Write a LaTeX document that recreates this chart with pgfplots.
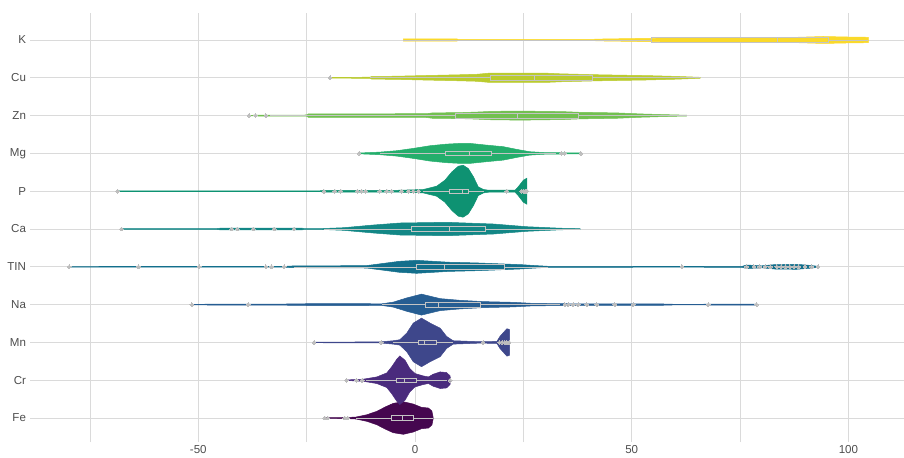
\documentclass[border=0pt]{standalone}
\usepackage{pgfplots}
\pgfplotsset{compat=1.18}
\usepackage{pgfplotstable}
\usepgfplotslibrary{fillbetween,statistics}
\usepackage{fontspec}
\setmainfont{Liberation Sans}

\definecolor{tickgrey}{HTML}{4D4D4D}
\definecolor{gridgrey}{HTML}{DADADA}
\definecolor{boxgrey}{HTML}{C4C4C4}
\definecolor{dotgrey}{HTML}{BDBDBD}
\definecolor{cFe}{HTML}{45074F}
\definecolor{cCr}{HTML}{4A2B7D}
\definecolor{cMn}{HTML}{3E478B}
\definecolor{cNa}{HTML}{265D92}
\definecolor{cTIN}{HTML}{136F8C}
\definecolor{cCa}{HTML}{138786}
\definecolor{cP}{HTML}{0E9272}
\definecolor{cMg}{HTML}{24AE6C}
\definecolor{cZn}{HTML}{72C050}
\definecolor{cCu}{HTML}{BACB2E}
\definecolor{cK}{HTML}{FAD92A}

% violin outlines: x = value, w = half width (in pt at row spacing 37.83)
\pgfplotstableread{
x w
-20.8 0.3
-15.5 0.6
-13.6 1.0
-11.1 3.3
-8.8 6.7
-6.9 11.0
-5.0 14.7
-2.7 16.3
-0.4 14.0
1.5 10.7
3.1 10.0
3.9 7.0
4.2 0.5
}\tFe
\pgfplotstableread{
x w
-15.8 0.3
-12.0 1.0
-8.8 3.3
-6.5 7.3
-5.4 13.3
-4.2 21.0
-3.5 24.3
-2.3 20.0
-1.2 11.7
0.0 6.7
1.9 4.3
3.1 3.3
4.2 6.0
5.8 8.3
7.3 7.7
8.1 4.3
8.2 0.5
}\tCr
\pgfplotstableread{
x w
-23.3 0.3
-8.0 0.5
-7.3 0.8
-5.0 1.7
-3.5 2.7
-1.9 9.3
-0.4 19.3
1.5 24.3
3.5 19.3
5.8 14.3
7.3 6.0
8.8 1.7
15.0 0.7
18.9 1.0
19.6 6.0
21.2 13.7
21.8 13.0
21.85 0.5
}\tMn
\pgfplotstableread{
x w
-51.5 0.3
-38.5 0.6
-30.0 0.6
-23.0 1.0
-15.0 1.0
-7.7 0.8
-5.0 2.5
-1.9 6.7
1.5 10.5
5.8 6.0
10.4 4.3
15.8 3.0
22.7 2.3
26.9 1.3
36.5 0.8
56.0 0.8
60.0 0.3
63.0 0.3
78.8 0.6
}\tNa
\pgfplotstableread{
x w
-79.8 0.3
-30.2 0.4
-28.0 0.9
-20.0 1.0
-11.2 1.2
-7.5 3.3
-3.6 5.5
0.4 6.5
7.7 4.6
14.2 3.9
20.7 2.8
24.7 2.1
27.1 1.4
30.8 0.5
61.6 0.4
75.5 0.5
76.5 1.8
80.0 1.0
83.0 2.2
88.0 2.5
91.0 1.5
93.0 0.5
}\tTIN
\pgfplotstableread{
x w
-67.7 0.3
-46.0 0.3
-45.0 0.8
-26.0 0.8
-25.5 0.3
-21.2 0.5
-16.5 1.3
-9.6 4.0
-3.5 6.0
7.3 6.7
18.1 5.0
25.8 2.3
33.5 0.8
38.1 0.4
}\tCa
\pgfplotstableread{
x w
-68.6 0.3
-22.0 0.4
-21.0 0.8
-5.0 0.8
1.9 1.7
5.0 5.0
6.9 11.0
8.5 19.3
10.0 25.0
11.1 26.0
12.3 22.7
13.5 14.3
14.6 4.3
15.8 1.7
17.0 1.0
23.1 1.0
23.8 4.3
25.0 11.0
25.8 13.0
25.82 0.5
}\tP
\pgfplotstableread{
x w
-12.9 0.4
-8.1 1.3
-4.2 2.7
-0.4 5.0
3.5 7.7
7.3 9.3
10.4 10.0
12.7 10.0
16.5 8.3
20.4 6.7
23.5 4.0
26.5 1.7
30.0 0.8
33.0 0.7
38.3 0.4
}\tMg
\pgfplotstableread{
x w
-38.3 0.3
-34.4 0.5
-25.0 0.6
-24.6 1.7
2.7 1.9
4.0 2.7
10.4 3.0
14.0 3.5
18.1 4.3
25.0 4.5
34.0 4.0
38.0 3.3
46.5 2.7
51.9 1.7
57.3 1.0
62.7 0.4
}\tZn
\pgfplotstableread{
x w
-19.6 0.3
-10.4 0.6
-10.0 1.3
-4.2 1.6
2.7 2.3
10.0 3.0
14.2 3.5
17.3 4.7
30.0 4.7
33.5 4.0
42.7 3.0
53.5 2.2
60.4 1.4
65.8 0.5
}\tCu
\pgfplotstableread{
x w
-2.7 1.2
9.6 1.2
10.0 0.5
39.6 0.5
43.4 1.0
54.2 1.7
65.0 2.0
79.6 2.2
88.1 2.7
94.2 3.5
99.6 3.0
104.6 2.7
104.62 0.3
}\tK

% outlying points: value, row
\pgfplotstableread{
x y
-20.8 1
-20.1 1
-16.2 1
-15.5 1
-15.8 2
-13.5 2
-12.2 2
8.1 2
-23.3 3
-7.8 3
15.7 3
19.5 3
20.1 3
20.7 3
21.2 3
21.7 3
-51.5 4
-38.5 4
34.6 4
35.4 4
36.5 4
37.7 4
39.6 4
41.9 4
46.1 4
50.4 4
67.7 4
78.8 4
-79.8 5
-63.8 5
-49.8 5
-34.4 5
-33.1 5
-30.2 5
61.6 5
76.5 5
78.2 5
79.5 5
80.8 5
82.0 5
83.5 5
84.5 5
85.5 5
86.5 5
87.5 5
88.5 5
90.0 5
91.5 5
93.0 5
-67.7 6
-42.3 6
-41.0 6
-37.3 6
-32.5 6
-27.9 6
-68.6 7
-21.0 7
-18.5 7
-17.1 7
-13.3 7
-12.3 7
-11.4 7
-8.1 7
-6.5 7
-5.4 7
-3.1 7
-1.5 7
-0.4 7
0.8 7
21.2 7
24.6 7
25.0 7
25.4 7
25.8 7
-12.9 8
33.8 8
34.5 8
38.3 8
-38.3 9
-36.8 9
-34.4 9
-19.6 10
}\tOut

\newcommand\pxrow{37.83}
% #1 table, #2 row, #3 colour
\newcommand{\violin}[3]{%
  \addplot[draw=none, forget plot, name path=up#2] table[x=x, y expr={#2+\thisrow{w}/\pxrow}] {#1};
  \addplot[draw=none, forget plot, name path=lo#2] table[x=x, y expr={#2-\thisrow{w}/\pxrow}] {#1};
  \addplot[fill=#3, draw=#3, line width=0.5bp, forget plot] fill between[of=up#2 and lo#2];
}
% #1 row, #2 lower whisker, #3 q1, #4 median, #5 q3, #6 upper whisker
\newcommand{\statbox}[6]{%
  \addplot[draw=boxgrey, line width=0.6bp, forget plot,
    boxplot prepared={draw position=#1, lower whisker=#2, lower quartile=#3,
      median=#4, upper quartile=#5, upper whisker=#6}] coordinates {};
}

\begin{document}
\begin{tikzpicture}
\begin{axis}[
  at={(0,0)}, anchor=south west,
  scale only axis,
  width=874bp, height=429bp,
  xmin=-88.83, xmax=112.83,
  ymin=0.366, ymax=11.714,
  axis line style={draw=none},
  major tick length=0, minor tick length=0,
  xtick={-50,0,50,100},
  xticklabels={-50,0,50,100},
  minor xtick={-75,-25,25,75},
  ytick={1,2,3,4,5,6,7,8,9,10,11},
  yticklabels={Fe,Cr,Mn,Na,TIN,Ca,P,Mg,Zn,Cu,K},
  xmajorgrids, xminorgrids, ymajorgrids,
  grid style={draw=gridgrey, line width=0.8bp},
  minor grid style={draw=gridgrey, line width=0.8bp},
  tick label style={font=\fontsize{11.6}{13}\selectfont, text=tickgrey},
  yticklabel style={xshift=-0.5bp},
  xticklabel style={inner sep=0pt, yshift=-3.2bp},
  boxplot/draw direction=x,
  boxplot/box extend=0.122,
  boxplot/whisker extend=0,
  clip=false,
]
\violin{\tFe}{1}{cFe}
\violin{\tCr}{2}{cCr}
\violin{\tMn}{3}{cMn}
\violin{\tNa}{4}{cNa}
\violin{\tTIN}{5}{cTIN}
\violin{\tCa}{6}{cCa}
\violin{\tP}{7}{cP}
\violin{\tMg}{8}{cMg}
\violin{\tZn}{9}{cZn}
\violin{\tCu}{10}{cCu}
\violin{\tK}{11}{cK}

\statbox{1}{-13.6}{-5.5}{-3.0}{-0.5}{4.1}
\statbox{2}{-11.2}{-4.2}{-2.5}{0.4}{7.3}
\statbox{3}{-5.0}{0.8}{2.1}{5.0}{8.8}
\statbox{4}{-7.6}{2.3}{5.4}{15.0}{33.5}
\statbox{5}{-28.0}{0.4}{6.8}{20.7}{30.6}
\statbox{6}{-21.0}{-0.8}{7.9}{16.2}{38.1}
\statbox{7}{1.9}{7.9}{10.8}{12.3}{16.0}
\statbox{8}{-8.0}{6.9}{12.6}{17.5}{32.5}
\statbox{9}{-33.5}{9.2}{23.5}{37.7}{62.7}
\statbox{10}{-10.4}{17.3}{27.5}{40.8}{65.8}
\statbox{11}{-2.7}{54.6}{83.5}{95.4}{104.6}

\addplot[only marks, color=dotgrey, mark=*, mark size=1.9bp,
  mark options={fill=dotgrey, draw=dotgrey, line width=0pt}, forget plot]
  table[x=x, y=y] {\tOut};
\end{axis}
\pgfresetboundingbox
\path[use as bounding box] (-30bp,-16bp) rectangle (874bp,442bp);
\end{tikzpicture}
\end{document}
